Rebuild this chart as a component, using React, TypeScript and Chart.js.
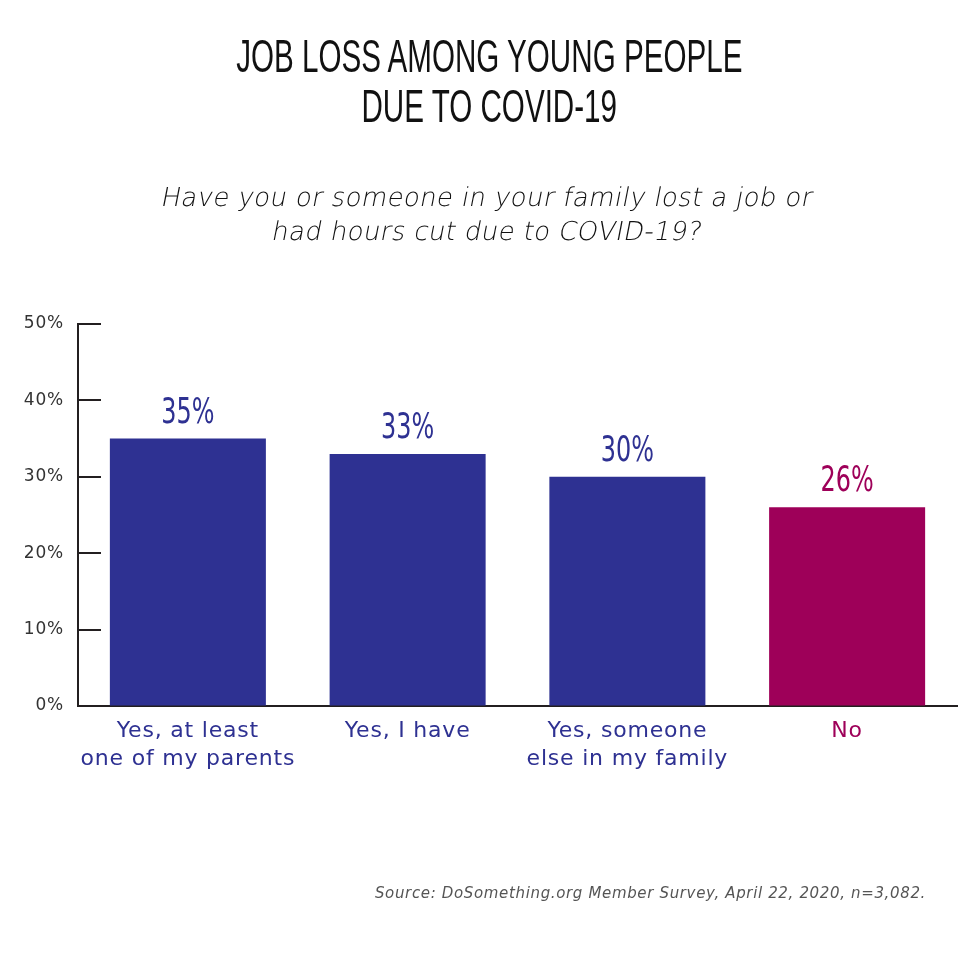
import React, { useEffect, useRef } from "react";
import { Chart, registerables } from "chart.js";

Chart.register(...registerables);

const categories: string[][] = [
  ["Yes, at least", "one of my parents"],
  ["Yes, I have"],
  ["Yes, someone", "else in my family"],
  ["No"],
];
const values: number[] = [35, 33, 30, 26];
const barColors: string[] = ["#2e3192", "#2e3192", "#2e3192", "#9e0059"];
const yTicks: number[] = [0, 10, 20, 30, 40, 50];

const titleLines = ["JOB LOSS AMONG YOUNG PEOPLE", "DUE TO COVID-19"];
const subtitleLines = [
  "Have you or someone in your family lost a job or",
  "had hours cut due to COVID-19?",
];
const sourceText = "Source: DoSomething.org Member Survey, April 22, 2020, n=3,082.";

const AXIS_COLOR = "#231f20";
const SANS = "'DejaVu Sans', sans-serif";

const spacingPlugin = {
  id: "spacing",
  beforeDraw(chart: any) {
    (chart.ctx as any).letterSpacing = "0.8px";
  },
};

const innerTicksPlugin = {
  id: "innerTicks",
  afterDraw(chart: any) {
    const y = chart.scales.y;
    const ctx = chart.ctx;
    const left = chart.chartArea.left;
    ctx.save();
    ctx.strokeStyle = AXIS_COLOR;
    ctx.lineWidth = 2;
    y.ticks.forEach((t: any) => {
      const py = Math.round(y.getPixelForValue(t.value));
      ctx.beginPath();
      ctx.moveTo(left, py);
      ctx.lineTo(left + 23, py);
      ctx.stroke();
    });
    ctx.restore();
  },
};

const valueLabelPlugin = {
  id: "valueLabels",
  afterDatasetsDraw(chart: any) {
    const ctx = chart.ctx;
    const meta = chart.getDatasetMeta(0);
    ctx.save();
    (ctx as any).letterSpacing = "0px";
    meta.data.forEach((bar: any, i: number) => {
      ctx.save();
      ctx.translate(bar.x, bar.y - 16);
      ctx.scale(0.76, 1);
      ctx.font = "35px 'Liberation Sans Narrow', 'DejaVu Sans Condensed', sans-serif";
      ctx.fillStyle = barColors[i];
      ctx.textAlign = "center";
      ctx.textBaseline = "alphabetic";
      ctx.fillText(values[i] + "%", 0, 0);
      ctx.restore();
    });
    ctx.restore();
  },
};

function BarChart() {
  const ref = useRef<HTMLCanvasElement | null>(null);
  useEffect(() => {
    if (!ref.current) return;
    const chart = new Chart(ref.current, {
      type: "bar",
      data: {
        labels: categories as any,
        datasets: [
          {
            data: values,
            backgroundColor: barColors,
            borderWidth: 0,
            barPercentage: 0.71,
            categoryPercentage: 1,
          },
        ],
      },
      options: {
        animation: false,
        responsive: false,
        maintainAspectRatio: false,
        layout: { padding: { top: 324, right: 23, left: 0, bottom: 0 } },
        plugins: {
          legend: { display: false },
          tooltip: { enabled: false },
          title: { display: false },
        },
        scales: {
          x: {
            grid: { display: true, drawOnChartArea: false, drawTicks: false },
            border: { display: true, color: AXIS_COLOR, width: 2 },
            ticks: {
              padding: 11,
              color: (c: any) => barColors[c.index] || "#2e3192",
              font: { family: SANS, size: 22, lineHeight: "28px" },
              maxRotation: 0,
              autoSkip: false,
            },
            afterFit: (s: any) => {
              s.height = 274;
            },
          },
          y: {
            min: 0,
            max: 50,
            afterBuildTicks: (s: any) => {
              s.ticks = yTicks.map((v) => ({ value: v }));
            },
            grid: { display: true, drawOnChartArea: false, drawTicks: false },
            border: { display: true, color: AXIS_COLOR, width: 2 },
            ticks: {
              padding: 14,
              color: "#333333",
              font: { family: SANS, size: 17 },
              callback: (v: any) => v + "%",
            },
            afterFit: (s: any) => {
              s.width = 78;
            },
          },
        },
      },
      plugins: [spacingPlugin, innerTicksPlugin, valueLabelPlugin],
    });
    return () => chart.destroy();
  }, []);
  return (
    <canvas
      ref={ref}
      width={980}
      height={980}
      style={{ position: "absolute", left: 0, top: 0, width: 980, height: 980 }}
    />
  );
}

export default function App() {
  return (
    <div
      style={{
        position: "absolute",
        left: 0,
        top: 0,
        width: 980,
        height: 980,
        background: "#ffffff",
        overflow: "hidden",
      }}
    >
      <BarChart />
      <div
        style={{
          position: "absolute",
          left: 0,
          top: 31,
          width: 980,
          textAlign: "center",
          fontFamily: "'Liberation Sans Narrow', sans-serif",
          fontSize: 47,
          lineHeight: "50px",
          color: "#111111",
        }}
      >
        {titleLines.map((l, i) => (
          <div key={i} style={{ transform: "scaleX(0.63)", transformOrigin: "488px 0" }}>
            {l}
          </div>
        ))}
      </div>
      <div
        style={{
          position: "absolute",
          left: 0,
          top: 180,
          width: 975,
          textAlign: "center",
          fontFamily: SANS,
          fontWeight: 200,
          fontSize: 26,
          letterSpacing: "0.35px",
          lineHeight: "34px",
          color: "#111111",
        }}
      >
        {subtitleLines.map((l, i) => (
          <div key={i} style={{ transform: "skewX(-11deg)" }}>
            {l}
          </div>
        ))}
      </div>
      <div
        style={{
          position: "absolute",
          right: 54,
          top: 882,
          textAlign: "right",
          fontFamily: SANS,
          fontStyle: "italic",
          fontSize: 15,
          letterSpacing: "0.65px",
          lineHeight: "22px",
          color: "#555555",
          whiteSpace: "nowrap",
        }}
      >
        {sourceText}
      </div>
    </div>
  );
}
